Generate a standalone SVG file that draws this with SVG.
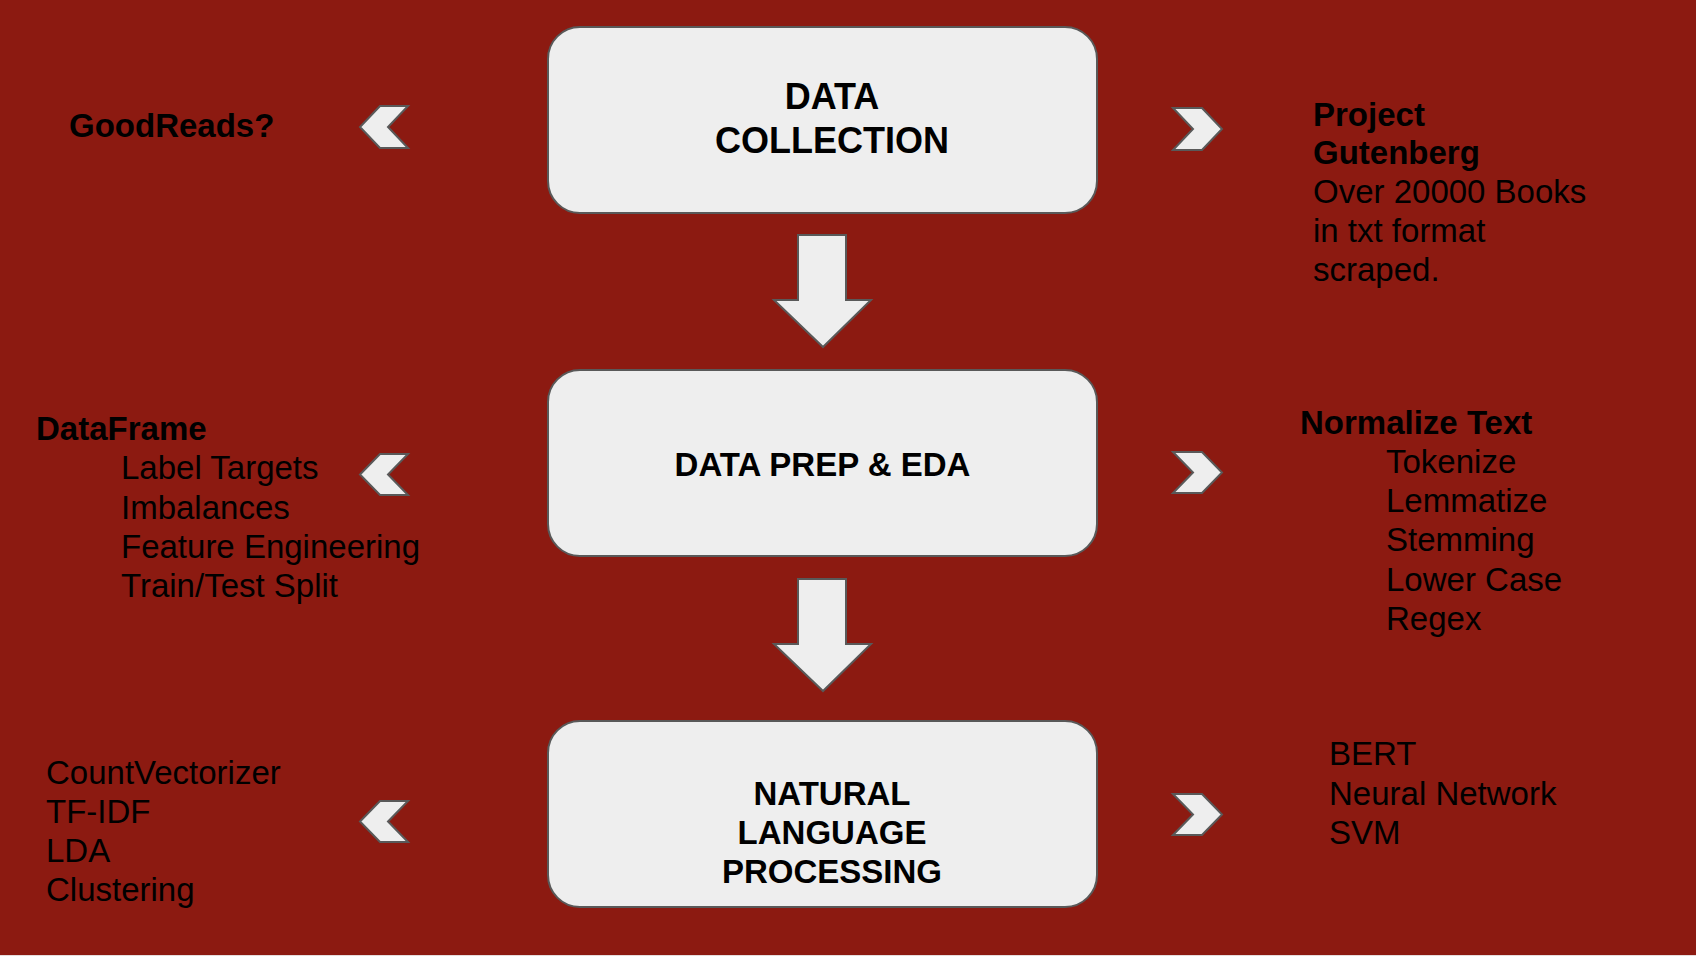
<svg xmlns="http://www.w3.org/2000/svg" width="1696" height="956" viewBox="0 0 1696 956">
<style>
.box{fill:#eeeeee;stroke:#595959;stroke-width:2}
.shape{fill:#eeeeee;stroke:#595959;stroke-width:2;stroke-linejoin:miter}
text{font-family:"Liberation Sans",Arial,sans-serif;fill:#000000}
.t{font-size:33px;font-weight:bold;text-anchor:middle}
.tb{font-size:36px;font-weight:bold;text-anchor:middle}
.b{font-size:33px;font-weight:bold}
.r{font-size:33px}
</style>
<rect x="0" y="0" width="1696" height="956" fill="#8c1a11"/>
<rect x="0" y="955" width="1696" height="1" fill="#e6dcdc"/>
<g id="connectors">
<path class="shape" d="M798,235 H846 V300 H871 L823,347 L774,300 H798 Z"/>
<path class="shape" d="M798,579 H846 V644 H871 L823,691 L774,644 H798 Z"/>
<path class="shape" d="M380,106 H408 L388,127 L408,148 H380 L360,127 Z"/>
<path class="shape" d="M1173,108 H1202 L1222,129 L1202,150 H1173 L1193,129 Z"/>
<path class="shape" d="M380,454 H408 L388,474.5 L408,495 H380 L360,474.5 Z"/>
<path class="shape" d="M1173,452 H1202 L1222,472.5 L1202,493 H1173 L1193,472.5 Z"/>
<path class="shape" d="M380,801 H408 L388,821.5 L408,842 H380 L360,821.5 Z"/>
<path class="shape" d="M1173,794 H1202 L1222,814.5 L1202,835 H1173 L1193,814.5 Z"/>
</g>
<g id="data-collection">
<rect class="box" x="548" y="27" width="549" height="186" rx="32"/>
<text class="tb" x="832" y="109">DATA</text>
<text class="tb" x="832" y="153">COLLECTION</text>
</g>
<g id="data-prep">
<rect class="box" x="548" y="370" width="549" height="186" rx="32"/>
<text class="t" x="822.5" y="476">DATA PREP &amp; EDA</text>
</g>
<g id="nlp">
<rect class="box" x="548" y="721" width="549" height="186" rx="32"/>
<text class="t" x="832" y="805">NATURAL</text>
<text class="t" x="832" y="844">LANGUAGE</text>
<text class="t" x="832" y="883">PROCESSING</text>
</g>
<g id="goodreads">
<text class="b" x="69" y="137">GoodReads?</text>
</g>
<g id="gutenberg">
<text class="b" x="1313" y="126">Project</text>
<text class="b" x="1313" y="164">Gutenberg</text>
<text class="r" x="1313" y="203">Over 20000 Books</text>
<text class="r" x="1313" y="242">in txt format</text>
<text class="r" x="1313" y="281">scraped.</text>
</g>
<g id="dataframe">
<text class="b" x="36" y="440">DataFrame</text>
<text class="r" x="121" y="479">Label Targets</text>
<text class="r" x="121" y="519">Imbalances</text>
<text class="r" x="121" y="558">Feature Engineering</text>
<text class="r" x="121" y="597">Train/Test Split</text>
</g>
<g id="normalize">
<text class="b" x="1300" y="434">Normalize Text</text>
<text class="r" x="1386" y="473">Tokenize</text>
<text class="r" x="1386" y="512">Lemmatize</text>
<text class="r" x="1386" y="551">Stemming</text>
<text class="r" x="1386" y="591">Lower Case</text>
<text class="r" x="1386" y="630">Regex</text>
</g>
<g id="vectorizers">
<text class="r" x="46" y="784">CountVectorizer</text>
<text class="r" x="46" y="823">TF-IDF</text>
<text class="r" x="46" y="862">LDA</text>
<text class="r" x="46" y="901">Clustering</text>
</g>
<g id="models">
<text class="r" x="1329" y="765">BERT</text>
<text class="r" x="1329" y="805">Neural Network</text>
<text class="r" x="1329" y="844">SVM</text>
</g>
</svg>
